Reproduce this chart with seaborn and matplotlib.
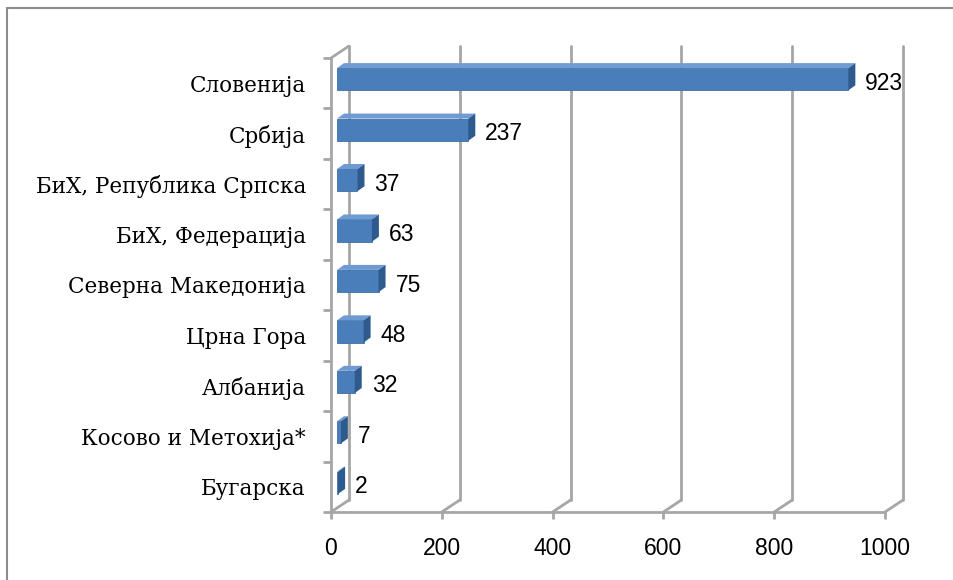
import pandas as pd
import seaborn as sns
import matplotlib.pyplot as plt
from matplotlib.patches import Polygon
from matplotlib.lines import Line2D

# Data
countries = [
    "Словенија",
    "Србија",
    "БиХ, Република Српска",
    "БиХ, Федерација",
    "Северна Македонија",
    "Црна Гора",
    "Албанија",
    "Косово и Метохија*",
    "Бугарска",
]
values = [923, 237, 37, 63, 75, 48, 32, 7, 2]
x_ticks = [0, 200, 400, 600, 800, 1000]

GRID = "#a6a6a6"
FRONT = "#4a7ebb"
TOP = "#6f9bd3"
SIDE = "#2e5a8e"


def main():
    df = pd.DataFrame({"country": countries, "value": values})

    sns.set_style("white")
    fig = plt.figure(figsize=(9.54, 5.80), dpi=100)
    W, H = 954, 580
    ax = fig.add_axes([331 / W, 1 - 512 / H, (885 - 331) / W, (512 - 58) / H])

    sns.barplot(data=df, y="country", x="value", orient="h", color=FRONT,
                width=0.44, saturation=1, ax=ax, zorder=3)
    ax.set_xlim(0, 1000)
    ax.set_ylim(len(countries) - 0.5, -0.5)

    # pixel -> data conversion for the fake 3D depth
    px_x = 1000 / (885 - 331)
    px_y = len(countries) / (512 - 58)
    wall_dx, wall_dy = 18 * px_x, -12 * px_y
    bar_dx, bar_dy = 6 * px_x, -4 * px_y
    cap_dx, cap_dy = 7 * px_x, -5 * px_y

    # back wall gridlines and floor
    y_top, y_bot = -0.5, len(countries) - 0.5
    for t in x_ticks:
        ax.plot([t + wall_dx, t + wall_dx], [y_top + wall_dy, y_bot + wall_dy],
                color=GRID, lw=2, clip_on=False, zorder=1)
        ax.plot([t, t + wall_dx], [y_bot, y_bot + wall_dy],
                color=GRID, lw=2, clip_on=False, zorder=1)
    ax.plot([0, wall_dx], [y_top, y_top + wall_dy], color=GRID, lw=2,
            clip_on=False, zorder=1)

    # shift bar fronts and add top/side faces
    for p in ax.patches:
        p.set_x(p.get_x() + bar_dx)
        p.set_y(p.get_y() + bar_dy)
        p.set_edgecolor("#3f6fa8")
        p.set_linewidth(0.6)
        x0, y0 = p.get_x(), p.get_y()
        x1, y1 = x0 + p.get_width(), y0 + p.get_height()
        top = Polygon([(x0, y0), (x0 + cap_dx, y0 + cap_dy),
                       (x1 + cap_dx, y0 + cap_dy), (x1, y0)],
                      closed=True, facecolor=TOP, edgecolor="none", zorder=3)
        side = Polygon([(x1, y0), (x1 + cap_dx, y0 + cap_dy),
                        (x1 + cap_dx, y1 + cap_dy), (x1, y1)],
                       closed=True, facecolor=SIDE, edgecolor="none", zorder=3)
        ax.add_patch(top)
        ax.add_patch(side)

    # value labels
    for i, v in enumerate(values):
        ax.text(v + bar_dx + cap_dx + 10 * px_x, i, str(v), va="center",
                ha="left", fontsize=16.5, family="Liberation Sans",
                color="black", zorder=4)

    # axes styling
    for s in ["top", "right"]:
        ax.spines[s].set_visible(False)
    for s in ["left", "bottom"]:
        ax.spines[s].set_color(GRID)
        ax.spines[s].set_linewidth(2)
    ax.set_xlabel("")
    ax.set_ylabel("")
    ax.set_xticks(x_ticks)
    ax.set_xticklabels([str(t) for t in x_ticks], family="Liberation Sans",
                       fontsize=16.5)
    ax.tick_params(axis="x", bottom=True, length=5, width=2, color=GRID,
                   pad=13, labelcolor="black")
    ax.set_yticks(range(len(countries)))
    ax.set_yticklabels(countries, family="DejaVu Serif", fontsize=15.5)
    ax.tick_params(axis="y", which="major", length=0, pad=18,
                   labelcolor="black")
    ax.set_yticks([i - 0.5 for i in range(len(countries) + 1)], minor=True)
    ax.tick_params(axis="y", which="minor", left=True, length=6, width=2,
                   color=GRID)
    ax.set_facecolor("none")

    # outer chart border (cropped at right and bottom)
    fig.add_artist(Line2D([7 / W, 7 / W], [1 - 8 / H, 0], color="#8c8c8c",
                          lw=1.5, transform=fig.transFigure))
    fig.add_artist(Line2D([7 / W, 1], [1 - 8 / H, 1 - 8 / H], color="#8c8c8c",
                          lw=1.5, transform=fig.transFigure))

    fig.savefig("out.png", dpi=100, facecolor="white")


if __name__ == "__main__":
    main()
